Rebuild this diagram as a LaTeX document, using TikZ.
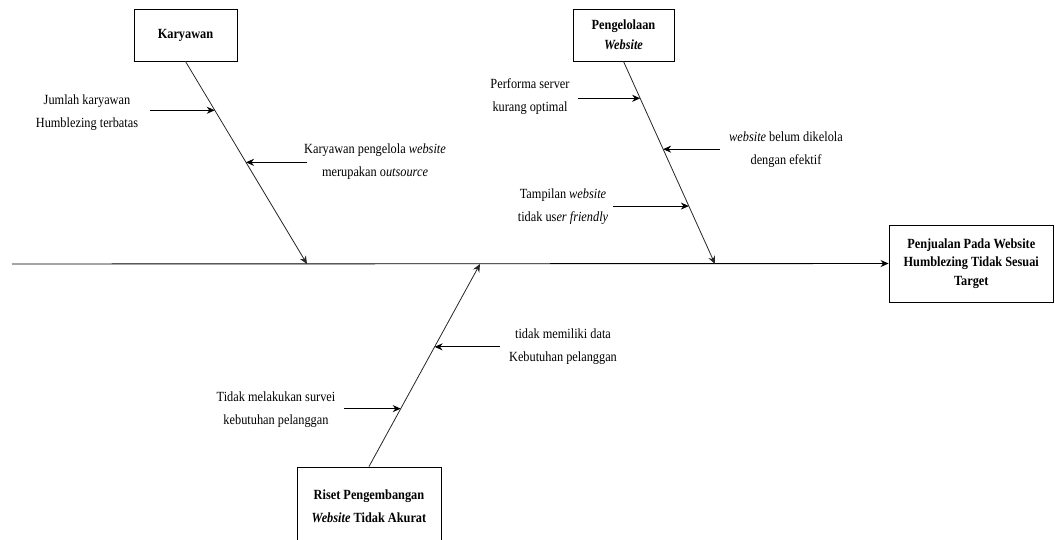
\documentclass[tikz,border=0pt]{standalone}
\usepackage{fontspec}
\setmainfont{Liberation Serif}[FakeStretch=0.88]
\usetikzlibrary{arrows.meta,calc}
\begin{document}
\begin{tikzpicture}[x=1pt,y=-1pt,
  txt/.style={align=center,font=\fontsize{14}{23}\selectfont,inner sep=0pt},
  cat/.style={draw,line width=0.9pt,align=center,font=\fontsize{14}{20}\selectfont\bfseries,inner sep=0pt},
  arr/.style={line width=0.9pt,-{Stealth[length=8pt,width=7pt]}},
  bone/.style={line width=0.8pt,draw=black!85,-{Stealth[length=8pt,width=7pt]}}]
\clip (0,0) rectangle (1055,539);
\useasboundingbox (0,0) rectangle (1055,539);
% category boxes
\node[cat,minimum width=103pt,minimum height=52pt] (k) at (185.5,35) {Karyawan};
\node[cat,minimum width=101pt,minimum height=52pt] (p) at (623.5,35) {Pengelolaan\\\textit{Website}};
\node[cat,minimum width=144pt,minimum height=79pt,font=\fontsize{14}{23}\selectfont\bfseries] (r) at (369,506.5) {Riset Pengembangan\\\textit{Website} Tidak Akurat};
\node[cat,minimum width=164.5pt,minimum height=77pt,font=\fontsize{14}{18.5}\selectfont\bfseries] (tgt) at (971.25,263.5) {Penjualan Pada Website\\Humblezing Tidak Sesuai\\Target};
% spine
\coordinate (s0) at (12,264);
\coordinate (sK) at (307,264);
\coordinate (sP) at (715,264);
\coordinate (sR) at (480,264);
\draw[arr] (s0) -- (tgt.west);
% bones
\draw[bone] (k.south) -- (sK);
\draw[bone] (p.south) -- (sP);
\draw[bone] (r.north) -- (sR);
% points on bones
\coordinate (bJ) at ($(k.south)!0.241!(sK)$);
\coordinate (bKP) at ($(k.south)!0.498!(sK)$);
\coordinate (bPS) at ($(p.south)!0.182!(sP)$);
\coordinate (bWB) at ($(p.south)!0.433!(sP)$);
\coordinate (bTW) at ($(p.south)!0.714!(sP)$);
\coordinate (bTM) at ($(r.north)!0.591!(sR)$);
\coordinate (bTS) at ($(r.north)!0.286!(sR)$);
% labels
\node[txt] (lJ) at (87,113) {Jumlah karyawan\\Humblezing terbatas};
\node[txt] (lKP) at (375,162) {Karyawan pengelola \textit{website}\\merupakan o\textit{utsource}};
\node[txt] (lPS) at (530,97) {Performa server\\kurang optimal};
\node[txt] (lWB) at (786,150) {\textit{website} belum dikelola\\dengan efektif};
\node[txt] (lTW) at (563,207) {Tampilan \textit{website}\\tidak us\textit{er friendly}};
\node[txt] (lTM) at (563,347) {tidak memiliki data\\Kebutuhan pelanggan};
\node[txt] (lTS) at (276,410) {Tidak melakukan survei\\kebutuhan pelanggan};
% arrow starts
\coordinate (aJ) at (150,0 |- bJ);
\coordinate (aKP) at (307,0 |- bKP);
\coordinate (aPS) at (578,0 |- bPS);
\coordinate (aWB) at (720,0 |- bWB);
\coordinate (aTW) at (613,0 |- bTW);
\coordinate (aTM) at (500,0 |- bTM);
\coordinate (aTS) at (344,0 |- bTS);
\draw[arr] (aJ) -- (bJ);
\draw[arr] (aKP) -- (bKP);
\draw[arr] (aPS) -- (bPS);
\draw[arr] (aWB) -- (bWB);
\draw[arr] (aTW) -- (bTW);
\draw[arr] (aTM) -- (bTM);
\draw[arr] (aTS) -- (bTS);
\end{tikzpicture}
\end{document}
